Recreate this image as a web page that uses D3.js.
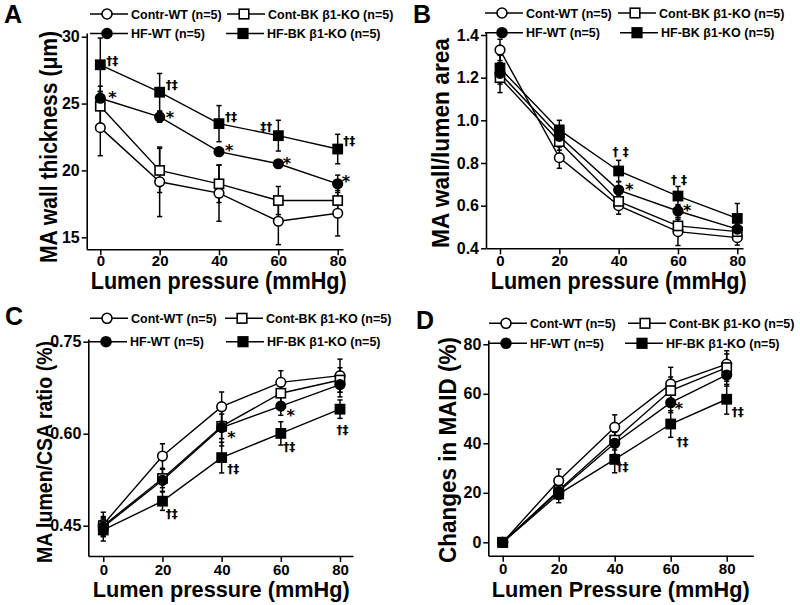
<!DOCTYPE html>
<html><head><meta charset="utf-8">
<script src="https://cdn.jsdelivr.net/npm/d3@7"></script>
<style>
body{margin:0;background:#fff}
text{font-family:"Liberation Sans",Arial,Helvetica,sans-serif;font-weight:bold;fill:#000}
text.ann{font-family:"DejaVu Sans","Liberation Sans",sans-serif}
</style>
</head><body>
<svg id="chart" width="800" height="605"></svg>
<script>
// ---------- DATA ----------
const pressures = [0, 20, 40, 60, 80];
const namesA = ["Contr-WT (n=5)", "Cont-BK β1-KO (n=5)", "HF-WT (n=5)", "HF-BK β1-KO (n=5)"];
const namesBCD = ["Cont-WT (n=5)", "Cont-BK β1-KO (n=5)", "HF-WT (n=5)", "HF-BK β1-KO (n=5)"];

// A: MA wall thickness (um)
const contWT_A = [23.2, 19.15, 18.3, 16.2, 16.8];
const contWT_A_err = [2.1, 2.6, 2.1, 1.75, 1.7];
const contKO_A = [24.8, 20.0, 19.0, 17.75, 17.75];
const contKO_A_err = [1.5, 1.65, 1.4, 1.05, 1.0];
const hfWT_A = [25.4, 24.0, 21.4, 20.5, 19.0];
const hfWT_A_err = [0.5, 0.4, 0.3, 0.3, 0.65];
const hfKO_A = [27.9, 25.85, 23.5, 22.6, 21.6];
const hfKO_A_err = [2.0, 1.4, 1.35, 1.15, 1.1];
const yTicksA = [15, 20, 25, 30];

// B: MA wall/lumen area
const contWT_B = [1.33, 0.825, 0.60, 0.478, 0.45];
const contWT_B_err = [0.05, 0.05, 0.04, 0.065, 0.035];
const contKO_B = [1.20, 0.90, 0.62, 0.505, 0.478];
const contKO_B_err = [0.07, 0.04, 0.03, 0.03, 0.03];
const hfWT_B = [1.22, 0.925, 0.673, 0.575, 0.49];
const hfWT_B_err = [0.05, 0.04, 0.04, 0.03, 0.03];
const hfKO_B = [1.245, 0.955, 0.7625, 0.645, 0.54];
const hfKO_B_err = [0.06, 0.045, 0.05, 0.045, 0.07];
const yTicksB = [0.4, 0.6, 0.8, 1.0, 1.2, 1.4];

// C: MA lumen/CSA ratio (%)
const contWT_C = [0.452, 0.5636, 0.644, 0.6837, 0.6946];
const contWT_C_err = [0.02, 0.02, 0.024, 0.019, 0.027];
const contKO_C = [0.450, 0.527, 0.612, 0.666, 0.6875];
const contKO_C_err = [0.015, 0.015, 0.02, 0.015, 0.02];
const hfWT_C = [0.448, 0.524, 0.610, 0.645, 0.680];
const hfWT_C_err = [0.015, 0.018, 0.03, 0.015, 0.02];
const hfKO_C = [0.443, 0.490, 0.561, 0.6005, 0.640];
const hfKO_C_err = [0.018, 0.015, 0.025, 0.019, 0.015];
const yTicksC = [0.45, 0.60, 0.75];

// D: Changes in MAID (%)
const contWT_D = [0, 24.9, 46.5, 64, 72];
const contWT_D_err = [0.8, 4.7, 5.0, 6.7, 5.4];
const contKO_D = [0, 21.0, 41.3, 61.3, 70.6];
const contKO_D_err = [0.8, 3.5, 4.0, 5.5, 5.5];
const hfWT_D = [0, 20.5, 40, 56.4, 67.6];
const hfWT_D_err = [0.8, 3.0, 4.5, 4.0, 4.5];
const hfKO_D = [0, 19.5, 33.5, 47.8, 57.8];
const hfKO_D_err = [0.8, 3.5, 5.4, 5.4, 6.0];
const yTicksD = [0, 20, 40, 60, 80];

// ---------- LAYOUT ----------
const svg = d3.select("#chart");

const panels = [
  {
    letter: "A", letterPos: [4, 23],
    vals: [contWT_A, contKO_A, hfWT_A, hfKO_A],
    errs: [contWT_A_err, contKO_A_err, hfWT_A_err, hfKO_A_err],
    names: namesA, yTicks: yTicksA, yFmt: d3.format("d"),
    xPx: [100.3, 337.7], xAxis: [86.7, 343],
    yVals: [15, 30], yPx: [237.3, 36.7], yAxis: [249.3, 33],
    xTickY: 17,
    legend: {lx: [90, 227, 90, 226], y: [14, 14, 33.5, 33.5]},
    yTitle: {text: "MA wall thickness (μm)", x: 57, cy: 147, len: 232, fs: 24},
    xTitle: {text: "Lumen pressure (mmHg)", x: 90.7, y: 289, len: 256, fs: 23.5},
    ann: [
      {s: 3, i: 0, t: "†‡", dx: 6, dy: 0}, {s: 2, i: 0, t: "*", dx: 8, dy: 4.5},
      {s: 3, i: 1, t: "†‡", dx: 6, dy: -3.5}, {s: 2, i: 1, t: "*", dx: 6, dy: 6.5},
      {s: 3, i: 2, t: "†‡", dx: 6, dy: -3}, {s: 2, i: 2, t: "*", dx: 6, dy: 4},
      {s: 3, i: 3, t: "‡†", dx: -6, dy: -5, anchor: "end"}, {s: 2, i: 3, t: "*", dx: 4.5, dy: 5},
      {s: 3, i: 4, t: "†‡", dx: 5.6, dy: -4.5}, {s: 2, i: 4, t: "*", dx: 4, dy: 3.5}
    ]
  },
  {
    letter: "B", letterPos: [413, 23],
    vals: [contWT_B, contKO_B, hfWT_B, hfKO_B],
    errs: [contWT_B_err, contKO_B_err, hfWT_B_err, hfKO_B_err],
    names: namesBCD, yTicks: yTicksB, yFmt: d3.format(".1f"),
    xPx: [500, 737.3], xAxis: [486, 743],
    yVals: [0.4, 1.4], yPx: [248.3, 35], yAxis: [248.3, 31.7],
    xTickY: 18,
    legend: {lx: [485, 618, 485, 620], y: [13, 13, 32.7, 32.7]},
    yTitle: {text: "MA wall/lumen area", x: 449, cy: 143, len: 210, fs: 24},
    xTitle: {text: "Lumen pressure (mmHg)", x: 490.7, y: 289, len: 256, fs: 23.5},
    ann: [
      {s: 3, i: 2, t: "† ‡", dx: 2, dy: -15, anchor: "middle"}, {s: 2, i: 2, t: "*", dx: 6.7, dy: 4.5},
      {s: 3, i: 3, t: "† ‡", dx: 1, dy: -12, anchor: "middle"}, {s: 2, i: 3, t: "*", dx: 5, dy: 5}
    ]
  },
  {
    letter: "C", letterPos: [5, 325],
    vals: [contWT_C, contKO_C, hfWT_C, hfKO_C],
    errs: [contWT_C_err, contKO_C_err, hfWT_C_err, hfKO_C_err],
    names: namesBCD, yTicks: yTicksC, yFmt: d3.format(".2f"),
    xPx: [103.3, 340], xAxis: [88.3, 353],
    yVals: [0.45, 0.75], yPx: [525.7, 341.7], yAxis: [556, 339],
    xTickY: 19,
    legend: {lx: [90, 225, 89, 226], y: [318.3, 318.3, 341.7, 341.7]},
    yTitle: {text: "MA lumen/CSA ratio (%)", x: 52, cy: 452, len: 222, fs: 22},
    xTitle: {text: "Lumen pressure (mmHg)", x: 92.7, y: 597, len: 257, fs: 22},
    ann: [
      {s: 2, i: 2, t: "*", dx: 5.7, dy: 15}, {s: 3, i: 2, t: "†‡", dx: 5.7, dy: 15.5},
      {s: 3, i: 1, t: "†‡", dx: 3.3, dy: 17}, {s: 2, i: 3, t: "*", dx: 5.7, dy: 15},
      {s: 3, i: 3, t: "†‡", dx: 2.3, dy: 18}, {s: 3, i: 4, t: "†‡", dx: 2.5, dy: 25, anchor: "middle"}
    ]
  },
  {
    letter: "D", letterPos: [416, 329],
    vals: [contWT_D, contKO_D, hfWT_D, hfKO_D],
    errs: [contWT_D_err, contKO_D_err, hfWT_D_err, hfKO_D_err],
    names: namesBCD, yTicks: yTicksD, yFmt: d3.format("d"),
    xPx: [502.7, 726.7], xAxis: [488.3, 753.3],
    yVals: [0, 80], yPx: [542.3, 344.3], yAxis: [555.7, 340],
    xTickY: 18,
    legend: {lx: [489, 628, 489, 625], y: [323.3, 323.3, 343.3, 343.3]},
    yTitle: {text: "Changes in MAID (%)", x: 456, cy: 450, len: 226, fs: 23},
    xTitle: {text: "Lumen Pressure (mmHg)", x: 491.7, y: 597, len: 258, fs: 22},
    ann: [
      {s: 3, i: 2, t: "†‡", dx: 1.7, dy: 12}, {s: 2, i: 3, t: "*", dx: 4, dy: 11},
      {s: 3, i: 3, t: "†‡", dx: 5.7, dy: 22}, {s: 3, i: 4, t: "†‡", dx: 5, dy: 17}
    ]
  }
];

// marker styles: 0 open circle, 1 open square, 2 filled circle, 3 filled square
function drawMarker(g, type, cx, cy, big) {
  const r = big ? 5 : 4.8, h = big ? 4.8 : 4.6;
  const fill = (type >= 2) ? "#000" : "#fff";
  if (type === 0 || type === 2) {
    g.append("circle").attr("cx", cx).attr("cy", cy).attr("r", r)
      .attr("fill", fill).attr("stroke", "#000").attr("stroke-width", 1.6);
  } else {
    g.append("rect").attr("x", cx - h).attr("y", cy - h).attr("width", 2 * h).attr("height", 2 * h)
      .attr("fill", fill).attr("stroke", "#000").attr("stroke-width", 1.6);
  }
}

function drawPanel(p) {
  const g = svg.append("g");
  const xs0 = d3.scaleLinear().domain([0, 80]).range(p.xPx);
  const x = d3.scaleLinear().domain([xs0.invert(p.xAxis[0]), xs0.invert(p.xAxis[1])]).range(p.xAxis);
  const ys0 = d3.scaleLinear().domain(p.yVals).range(p.yPx);
  const y = d3.scaleLinear().domain([ys0.invert(p.yAxis[0]), ys0.invert(p.yAxis[1])]).range(p.yAxis);

  // axes
  const xa = g.append("g").attr("transform", `translate(0,${p.yAxis[0]})`)
    .call(d3.axisBottom(x).tickValues(pressures).tickSize(6).tickSizeOuter(0).tickFormat(d3.format("d")));
  xa.selectAll("text").attr("y", p.xTickY).attr("dy", 0).style("font-size", "15px");
  const ya = g.append("g").attr("transform", `translate(${p.xAxis[0]},0)`)
    .call(d3.axisLeft(y).tickValues(p.yTicks).tickSize(5).tickPadding(2).tickSizeOuter(0).tickFormat(p.yFmt));
  ya.selectAll("text").style("font-size", "16px");
  [xa, ya].forEach(a => {
    a.select(".domain").attr("stroke", "#000").attr("stroke-width", 1.6);
    a.selectAll(".tick line").attr("stroke", "#000").attr("stroke-width", 1.5);
  });

  const line = d3.line().x((d, i) => x(pressures[i])).y(d => y(d));
  // connecting lines
  p.vals.forEach(v => {
    g.append("path").attr("d", line(v)).attr("fill", "none").attr("stroke", "#000").attr("stroke-width", 1.4);
  });
  // error bars
  p.vals.forEach((v, s) => {
    v.forEach((d, i) => {
      const e = p.errs[s][i], cx = x(pressures[i]);
      g.append("line").attr("x1", cx).attr("x2", cx).attr("y1", y(d - e)).attr("y2", y(d + e))
        .attr("stroke", "#000").attr("stroke-width", 1.5);
      [d - e, d + e].forEach(vv => {
        g.append("line").attr("x1", cx - 2.6).attr("x2", cx + 2.6).attr("y1", y(vv)).attr("y2", y(vv))
          .attr("stroke", "#000").attr("stroke-width", 1.5);
      });
    });
  });
  // markers
  p.vals.forEach((v, s) => {
    v.forEach((d, i) => drawMarker(g, s, x(pressures[i]), y(d), false));
  });
  // significance annotations
  p.ann.forEach(a => {
    const cx = x(pressures[a.i]), cy = y(p.vals[a.s][a.i]);
    g.append("text").attr("class", "ann").attr("x", cx + a.dx).attr("y", cy + a.dy)
      .attr("text-anchor", a.anchor || "start")
      .style("font-size", a.t === "*" ? "16px" : "12px")
      .style("fill", "#000")
      .text(a.t);
  });

  // legend
  p.names.forEach((nm, s) => {
    const lx = p.legend.lx[s], ly = p.legend.y[s];
    g.append("line").attr("x1", lx).attr("x2", lx + 38).attr("y1", ly).attr("y2", ly)
      .attr("stroke", "#000").attr("stroke-width", 1.4);
    drawMarker(g, s, lx + 17, ly, true);
    g.append("text").attr("x", lx + 41).attr("y", ly + 4.5).style("font-size", "12.5px").text(nm);
  });

  // panel letter
  g.append("text").attr("x", p.letterPos[0]).attr("y", p.letterPos[1]).style("font-size", "25px").text(p.letter);

  // axis titles
  g.append("text").attr("transform", `translate(${p.yTitle.x},${p.yTitle.cy}) rotate(-90)`)
    .attr("text-anchor", "middle").style("font-size", p.yTitle.fs + "px")
    .attr("textLength", p.yTitle.len).attr("lengthAdjust", "spacingAndGlyphs")
    .text(p.yTitle.text);
  g.append("text").attr("x", p.xTitle.x).attr("y", p.xTitle.y)
    .style("font-size", p.xTitle.fs + "px")
    .attr("textLength", p.xTitle.len).attr("lengthAdjust", "spacingAndGlyphs")
    .text(p.xTitle.text);
}

panels.forEach(drawPanel);
</script>
</body></html>
